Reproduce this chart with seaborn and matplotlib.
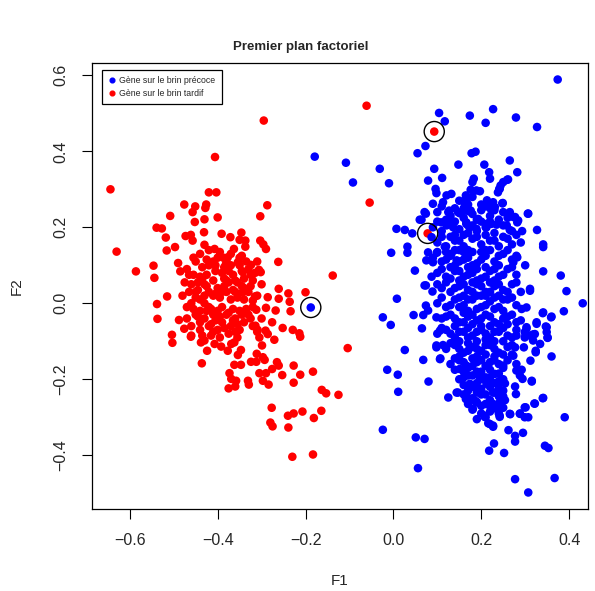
import pandas as pd
import matplotlib.pyplot as plt
import seaborn as sns
from matplotlib.lines import Line2D

# Coordinates (F1, F2)
red_pts = [
    (-0.406, 0.385), (-0.644, 0.300), (-0.630, 0.136), (-0.586, 0.084), (-0.546, 0.099), (-0.544, 0.067),
    (-0.515, 0.018), (-0.538, -0.002), (-0.420, 0.292), (-0.403, 0.292), (-0.476, 0.260), (-0.451, 0.255),
    (-0.457, 0.240), (-0.426, 0.260), (-0.428, 0.251), (-0.508, 0.230), (-0.452, 0.214), (-0.430, 0.221),
    (-0.400, 0.226), (-0.287, 0.258), (-0.303, 0.229), (-0.539, 0.199), (-0.527, 0.197), (-0.518, 0.173),
    (-0.516, 0.139), (-0.497, 0.148), (-0.473, 0.177), (-0.461, 0.180), (-0.457, 0.165), (-0.431, 0.187),
    (-0.430, 0.154), (-0.407, 0.143), (-0.391, 0.183), (-0.371, 0.174), (-0.350, 0.167), (-0.346, 0.186),
    (-0.337, 0.165), (-0.337, 0.149), (-0.363, 0.143), (-0.303, 0.165), (-0.296, 0.155), (-0.290, 0.143),
    (-0.262, 0.109), (-0.490, 0.106), (-0.485, 0.084), (-0.387, 0.120), (-0.377, 0.121), (-0.381, 0.104),
    (-0.354, 0.108), (-0.324, 0.101), (-0.306, 0.088), (-0.302, 0.082), (-0.343, 0.082), (-0.261, 0.038),
    (-0.239, 0.026), (-0.286, 0.016), (-0.261, 0.012), (-0.315, 0.018), (-0.200, 0.029), (-0.236, 0.004),
    (-0.320, 0.007), (-0.343, 0.029), (-0.537, -0.041), (-0.504, -0.083), (-0.503, -0.104), (-0.476, -0.067),
    (-0.461, -0.088), (-0.488, -0.044), (-0.436, -0.158), (-0.424, -0.125), (-0.438, -0.103), (-0.430, -0.098),
    (-0.407, -0.107), (-0.392, -0.114), (-0.377, -0.125), (-0.369, -0.107), (-0.362, -0.103), (-0.347, -0.123),
    (-0.354, -0.136), (-0.362, -0.162), (-0.347, -0.162), (-0.373, -0.184), (-0.369, -0.199), (-0.358, -0.204),
    (-0.375, -0.224), (-0.360, -0.219), (-0.331, -0.204), (-0.329, -0.214), (-0.305, -0.184), (-0.290, -0.184),
    (-0.297, -0.204), (-0.284, -0.214), (-0.324, -0.154), (-0.312, -0.154), (-0.311, -0.133), (-0.297, -0.142),
    (-0.293, -0.149), (-0.276, -0.173), (-0.265, -0.155), (-0.261, -0.164), (-0.253, -0.189), (-0.227, -0.164),
    (-0.212, -0.188), (-0.227, -0.209), (-0.183, -0.180), (-0.163, -0.228), (-0.153, -0.237), (-0.125, -0.241),
    (-0.104, -0.118), (-0.277, -0.275), (-0.280, -0.314), (-0.275, -0.324), (-0.240, -0.296), (-0.227, -0.290),
    (-0.207, -0.285), (-0.239, -0.327), (-0.181, -0.302), (-0.164, -0.283), (-0.230, -0.404), (-0.183, -0.398),
    (-0.234, -0.021), (-0.252, -0.065), (-0.229, -0.070), (-0.214, -0.079), (-0.212, -0.088), (-0.276, -0.050),
    (-0.271, -0.096), (-0.299, -0.111), (-0.305, -0.090), (-0.312, -0.017), (-0.290, -0.012), (-0.268, -0.019),
    (-0.291, -0.072), (-0.286, -0.081), (-0.314, -0.059), (-0.309, -0.070), (-0.061, 0.520), (-0.054, 0.265),
    (-0.138, 0.073), (-0.295, 0.481),
]

# dense part of the red cloud (estimated)
red_core = [
    (-0.47, 0.09), (-0.46, 0.05), (-0.45, 0.11), (-0.44, 0.07), (-0.43, 0.02), (-0.42, 0.10), (-0.41, 0.06),
    (-0.40, 0.12), (-0.39, 0.08), (-0.38, 0.03), (-0.37, 0.10), (-0.36, 0.06), (-0.35, 0.12), (-0.34, 0.04),
    (-0.33, 0.09), (-0.32, 0.06), (-0.31, 0.11), (-0.48, 0.02), (-0.47, -0.01), (-0.46, 0.00), (-0.45, 0.03),
    (-0.44, -0.02), (-0.43, 0.05), (-0.42, -0.01), (-0.41, 0.02), (-0.40, 0.04), (-0.39, -0.01), (-0.38, 0.06),
    (-0.37, 0.01), (-0.36, 0.03), (-0.35, -0.02), (-0.34, 0.01), (-0.33, 0.03), (-0.32, -0.01), (-0.31, 0.02),
    (-0.47, -0.04), (-0.46, -0.06), (-0.45, -0.03), (-0.44, -0.07), (-0.43, -0.04), (-0.42, -0.06), (-0.41, -0.03),
    (-0.40, -0.07), (-0.39, -0.05), (-0.38, -0.03), (-0.37, -0.06), (-0.36, -0.04), (-0.35, -0.07), (-0.34, -0.05),
    (-0.33, -0.03), (-0.32, -0.06), (-0.44, 0.13), (-0.42, 0.14), (-0.395, 0.135), (-0.37, 0.13), (-0.345, 0.125),
    (-0.455, 0.075), (-0.425, 0.045), (-0.405, 0.085), (-0.385, 0.045), (-0.365, 0.075), (-0.345, 0.085),
    (-0.325, 0.045), (-0.475, 0.055), (-0.435, 0.095), (-0.415, -0.015), (-0.395, 0.015), (-0.375, -0.025),
    (-0.355, 0.015), (-0.335, -0.015), (-0.455, -0.015), (-0.435, -0.085), (-0.415, -0.085), (-0.395, -0.09),
    (-0.375, -0.08), (-0.355, -0.09), (-0.465, 0.03), (-0.445, 0.035), (-0.405, -0.045), (-0.385, 0.095),
    (-0.365, -0.045), (-0.345, -0.03), (-0.425, 0.075), (-0.455, 0.12), (-0.41, 0.11), (-0.38, 0.115),
    (-0.35, 0.10), (-0.30, 0.05), (-0.30, -0.04), (-0.315, 0.08), (-0.36, -0.075), (-0.40, -0.02), (-0.43, 0.00),
    (-0.375, 0.055), (-0.34, 0.065), (-0.42, 0.03), (-0.44, 0.01), (-0.46, -0.085), (-0.44, -0.05), (-0.39, 0.03),
    (-0.31, -0.075), (-0.465, 0.075), (-0.445, 0.055), (-0.425, 0.115), (-0.405, 0.025), (-0.385, 0.065),
    (-0.365, 0.035), (-0.345, 0.045), (-0.335, 0.11), (-0.355, -0.055), (-0.385, -0.065), (-0.415, -0.055),
    (-0.445, -0.035), (-0.425, -0.02), (-0.395, -0.035), (-0.365, -0.015), (-0.325, -0.04), (-0.435, 0.065),
    (-0.405, 0.10), (-0.375, 0.085), (-0.355, 0.055), (-0.325, 0.075), (-0.45, 0.015), (-0.41, -0.075),
]

blue_pts = [
    (0.374, 0.589), (0.104, 0.501), (0.117, 0.479), (0.174, 0.494), (0.227, 0.511), (0.210, 0.475), (0.279, 0.489),
    (0.327, 0.464), (0.073, 0.414), (0.055, 0.395), (-0.031, 0.354), (-0.010, 0.316), (-0.179, 0.386),
    (-0.108, 0.370), (-0.092, 0.318), (0.178, 0.395), (0.187, 0.399), (0.148, 0.365), (0.093, 0.354),
    (0.111, 0.330), (0.079, 0.323), (0.207, 0.365), (0.265, 0.376), (0.282, 0.345), (0.218, 0.345), (0.220, 0.328),
    (0.183, 0.328), (0.180, 0.319), (0.261, 0.326), (0.244, 0.310), (0.241, 0.301), (0.096, 0.301), (0.098, 0.290),
    (0.132, 0.288), (0.121, 0.284), (0.113, 0.266), (0.166, 0.279), (0.163, 0.262), (0.189, 0.297), (0.197, 0.295),
    (0.090, 0.262), (0.125, 0.240), (0.151, 0.237), (0.172, 0.242), (0.213, 0.271), (0.223, 0.262), (0.231, 0.253),
    (0.248, 0.263), (0.307, 0.236), (0.265, 0.240), (0.273, 0.227), (0.282, 0.213), (0.074, 0.236), (0.064, 0.220),
    (0.007, 0.196), (0.026, 0.193), (0.043, 0.184), (0.293, 0.190), (0.327, 0.193), (0.193, 0.222), (0.166, 0.209),
    (0.212, 0.209), (0.235, 0.207), (-0.005, 0.133), (0.032, 0.149), (0.032, 0.133), (0.049, 0.086), (0.008, 0.012),
    (-0.024, -0.037), (-0.006, -0.057), (0.026, -0.123), (0.068, -0.149), (0.046, -0.031), (0.068, -0.031),
    (0.065, -0.066), (0.074, 0.047), (0.089, 0.031), (0.079, 0.134), (0.099, 0.133), (0.087, 0.070), (0.098, -0.111),
    (0.113, -0.110), (0.107, -0.145), (0.341, 0.155), (0.341, 0.148), (0.341, 0.084), (0.381, 0.073), (0.394, 0.032),
    (0.431, 0.000), (0.388, -0.021), (0.359, -0.037), (0.340, -0.026), (0.326, -0.050), (0.347, -0.061),
    (0.349, -0.076), (0.351, -0.091), (0.334, -0.107), (0.318, -0.098), (0.311, -0.085), (0.299, -0.076),
    (0.303, -0.063), (0.318, -0.082), (0.360, -0.140), (0.312, -0.151), (0.311, 0.038), (-0.014, -0.175),
    (0.010, -0.188), (0.011, -0.233), (0.080, -0.206), (0.125, -0.248), (-0.024, -0.333), (0.051, -0.353),
    (0.071, -0.357), (0.056, -0.434), (0.390, -0.300), (0.340, -0.250), (0.321, -0.264), (0.345, -0.375),
    (0.353, -0.381), (0.277, -0.463), (0.307, -0.498), (0.367, -0.460), (0.218, -0.388), (0.229, -0.369),
    (0.252, -0.394), (0.262, -0.334), (0.277, -0.349), (0.277, -0.364), (0.295, -0.341), (0.266, -0.292),
    (0.288, -0.290), (0.299, -0.300), (0.307, -0.300), (0.301, -0.274), (0.208, -0.299), (0.216, -0.316),
    (0.227, -0.325), (0.242, -0.299), (0.181, -0.278), (0.189, -0.261), (0.212, -0.265), (0.227, -0.265),
    (0.235, -0.278), (0.242, -0.261), (0.254, -0.255), (0.315, -0.206), (0.294, -0.199), (0.280, -0.177),
    (0.288, -0.190), (0.324, -0.129), (0.144, -0.235), (0.165, -0.252), (0.166, -0.239), (0.187, -0.258),
    (0.254, -0.211), (0.277, -0.219), (0.279, -0.239), (0.231, -0.186), (0.250, -0.164), (0.280, -0.160),
    (0.292, -0.175), (0.151, -0.173), (0.166, -0.164), (0.174, -0.212), (0.185, -0.221), (0.197, -0.230),
    (0.212, -0.212), (0.227, -0.235), (0.250, -0.230), (0.189, -0.186), (0.197, -0.195), (0.223, -0.212),
    (0.242, -0.208), (0.259, 0.325), (0.250, 0.319), (0.242, 0.301), (0.238, 0.292), (0.176, 0.299), (0.165, 0.284),
    (0.166, 0.271), (0.170, 0.244), (0.227, 0.266), (0.221, 0.249), (0.249, 0.264), (0.277, 0.227), (0.284, 0.218),
    (0.306, 0.236), (0.071, 0.240), (0.060, 0.220), (0.127, 0.244), (0.147, 0.240), (0.159, 0.244), (0.176, 0.244),
    (0.109, 0.213), (0.121, 0.205), (0.136, 0.200), (0.166, 0.213), (0.174, 0.200), (0.189, 0.196), (0.212, 0.200),
    (0.223, 0.209), (0.258, 0.205), (0.265, 0.193), (0.087, 0.174), (0.075, 0.113), (0.090, 0.108), (0.071, 0.047),
    (0.117, 0.149), (0.132, 0.130), (0.144, 0.113), (0.282, 0.121), (0.273, 0.108), (0.074, -0.006), (0.079, -0.019),
    (0.098, -0.037), (0.106, -0.072), (0.098, -0.116), (0.106, -0.147), (0.147, -0.235), (0.166, -0.248),
    (0.185, -0.256), (0.208, -0.296), (0.220, -0.318), (0.227, -0.322), (0.242, -0.296), (0.231, -0.270),
    (0.216, -0.265), (0.265, -0.291), (0.288, -0.291), (0.299, -0.274), (0.322, -0.264), (0.341, -0.249),
    (0.315, -0.204), (0.341, -0.024), (0.360, -0.035), (0.349, -0.063), (0.351, -0.090), (0.326, -0.054),
    (0.322, -0.081), (0.324, -0.125), (0.303, -0.067), (0.299, -0.090), (0.297, -0.116), (0.280, -0.085),
    (0.277, -0.116), (0.273, -0.138), (0.292, -0.015), (0.303, -0.011), (0.311, 0.033),
]

# dense part of the blue cloud (estimated)
blue_core = [
    (0.15, 0.27), (0.18, 0.28), (0.20, 0.26), (0.14, 0.25),
    (0.10, 0.24), (0.13, 0.23), (0.16, 0.25), (0.18, 0.235), (0.20, 0.245), (0.22, 0.23), (0.25, 0.24), (0.12, 0.22),
    (0.19, 0.22), (0.09, 0.20), (0.11, 0.19), (0.13, 0.21), (0.15, 0.195), (0.17, 0.205), (0.19, 0.19), (0.21, 0.20),
    (0.23, 0.185), (0.25, 0.205), (0.27, 0.19), (0.14, 0.18), (0.20, 0.215), (0.16, 0.18),
    (0.10, 0.16), (0.12, 0.15), (0.14, 0.165), (0.16, 0.15), (0.18, 0.17), (0.20, 0.155), (0.22, 0.165), (0.24, 0.15),
    (0.26, 0.17), (0.29, 0.16), (0.13, 0.175), (0.17, 0.14), (0.21, 0.14), (0.25, 0.175), (0.15, 0.14),
    (0.09, 0.12), (0.11, 0.11), (0.13, 0.125), (0.15, 0.11), (0.17, 0.12), (0.19, 0.105), (0.21, 0.125), (0.23, 0.11),
    (0.25, 0.13), (0.27, 0.115), (0.12, 0.135), (0.16, 0.135), (0.20, 0.135), (0.24, 0.10), (0.18, 0.10), (0.14, 0.10),
    (0.10, 0.08), (0.12, 0.07), (0.14, 0.085), (0.16, 0.07), (0.18, 0.08), (0.20, 0.065), (0.22, 0.085), (0.24, 0.07),
    (0.26, 0.09), (0.28, 0.075), (0.13, 0.095), (0.17, 0.095), (0.21, 0.095), (0.15, 0.06), (0.19, 0.06), (0.23, 0.06),
    (0.30, 0.10), (0.11, 0.04), (0.13, 0.03), (0.15, 0.045), (0.17, 0.035), (0.19, 0.05), (0.21, 0.03), (0.23, 0.045),
    (0.25, 0.035), (0.27, 0.05), (0.12, 0.055), (0.16, 0.02), (0.20, 0.02), (0.24, 0.02), (0.18, 0.055), (0.22, 0.055),
    (0.29, 0.03), (0.10, 0.00), (0.12, -0.01), (0.14, 0.01), (0.16, -0.005), (0.18, 0.01), (0.20, -0.01), (0.22, 0.005),
    (0.24, -0.01), (0.26, 0.01), (0.28, -0.005), (0.15, 0.015), (0.19, -0.015), (0.23, 0.015), (0.17, -0.02),
    (0.21, 0.02), (0.25, -0.02), (0.11, -0.04), (0.13, -0.03), (0.15, -0.05), (0.17, -0.035), (0.19, -0.045),
    (0.21, -0.03), (0.23, -0.05), (0.25, -0.04), (0.27, -0.03), (0.14, -0.06), (0.18, -0.055), (0.22, -0.06),
    (0.26, -0.055), (0.16, -0.025), (0.20, -0.06), (0.29, -0.045), (0.10, -0.08), (0.12, -0.07), (0.14, -0.09),
    (0.16, -0.075), (0.18, -0.085), (0.20, -0.07), (0.22, -0.09), (0.24, -0.075), (0.26, -0.085), (0.28, -0.07),
    (0.15, -0.10), (0.19, -0.10), (0.23, -0.10), (0.17, -0.065), (0.21, -0.08), (0.25, -0.10), (0.12, -0.12),
    (0.14, -0.11), (0.16, -0.13), (0.18, -0.115), (0.20, -0.125), (0.22, -0.11), (0.24, -0.13), (0.26, -0.115),
    (0.15, -0.14), (0.19, -0.14), (0.23, -0.14), (0.21, -0.135), (0.17, -0.105), (0.27, -0.135), (0.13, -0.16),
    (0.15, -0.15), (0.17, -0.17), (0.19, -0.155), (0.21, -0.165), (0.23, -0.15), (0.25, -0.17), (0.16, -0.18),
    (0.20, -0.18), (0.24, -0.185), (0.18, -0.145), (0.22, -0.175), (0.14, -0.175), (0.15, -0.20), (0.17, -0.19),
    (0.19, -0.21), (0.21, -0.195), (0.23, -0.21), (0.25, -0.20), (0.18, -0.22), (0.22, -0.22), (0.16, -0.215),
    (0.20, -0.225), (0.24, -0.225), (0.16, -0.24), (0.18, -0.25), (0.20, -0.24), (0.22, -0.255), (0.24, -0.245),
    (0.19, -0.26), (0.21, -0.265), (0.23, -0.27), (0.18, -0.28), (0.20, -0.29), (0.22, -0.285), (0.24, -0.29),
    (0.21, -0.30), (0.19, -0.305),
    (0.11, 0.255), (0.17, 0.26), (0.21, 0.255), (0.23, 0.245), (0.10, 0.215), (0.14, 0.215), (0.16, 0.225),
    (0.18, 0.205), (0.22, 0.215), (0.24, 0.22), (0.26, 0.225), (0.11, 0.175), (0.15, 0.165), (0.17, 0.185),
    (0.19, 0.175), (0.21, 0.18), (0.23, 0.165), (0.27, 0.155), (0.28, 0.18), (0.10, 0.135), (0.12, 0.115),
    (0.14, 0.14), (0.16, 0.115), (0.18, 0.135), (0.20, 0.115), (0.22, 0.14), (0.24, 0.125), (0.26, 0.14),
    (0.28, 0.125), (0.11, 0.09), (0.13, 0.065), (0.15, 0.085), (0.17, 0.075), (0.19, 0.09), (0.21, 0.07),
    (0.23, 0.09), (0.25, 0.075), (0.27, 0.095), (0.10, 0.05), (0.14, 0.04), (0.16, 0.05), (0.18, 0.03),
    (0.20, 0.045), (0.22, 0.03), (0.24, 0.05), (0.26, 0.03), (0.28, 0.055), (0.11, 0.015), (0.13, -0.005),
    (0.15, -0.01), (0.17, 0.01), (0.19, 0.02), (0.21, -0.005), (0.23, -0.015), (0.25, 0.01), (0.27, 0.015),
    (0.12, -0.035), (0.14, -0.04), (0.16, -0.05), (0.18, -0.03), (0.20, -0.04), (0.22, -0.035), (0.24, -0.055),
    (0.26, -0.035), (0.28, -0.05), (0.11, -0.065), (0.13, -0.08), (0.15, -0.075), (0.17, -0.09), (0.19, -0.075),
    (0.21, -0.095), (0.23, -0.075), (0.25, -0.065), (0.27, -0.09), (0.13, -0.105), (0.15, -0.12), (0.17, -0.125),
    (0.19, -0.12), (0.21, -0.11), (0.23, -0.12), (0.25, -0.135), (0.27, -0.11), (0.14, -0.145), (0.16, -0.155),
    (0.18, -0.165), (0.20, -0.15), (0.22, -0.155), (0.24, -0.16), (0.26, -0.15), (0.16, -0.195), (0.18, -0.19),
    (0.20, -0.20), (0.22, -0.195), (0.24, -0.205), (0.19, -0.18), (0.17, -0.23), (0.19, -0.235), (0.21, -0.24),
    (0.23, -0.235), (0.25, -0.245), (0.17, -0.265), (0.20, -0.27), (0.22, -0.27), (0.25, -0.275),
]

# points highlighted with a black ring
red_marked = [(0.093, 0.452), (0.078, 0.184)]
blue_marked = [(-0.188, -0.011)]

lab_early = 'Gène sur le brin précoce'
lab_late = 'Gène sur le brin tardif'

red = red_pts + red_core + red_marked
blue = blue_pts + blue_core + blue_marked
df = pd.DataFrame(red + blue, columns=['F1', 'F2'])
df['brin'] = [lab_late] * len(red) + [lab_early] * len(blue)
marked = pd.DataFrame(red_marked + blue_marked, columns=['F1', 'F2'])

sns.set_style('ticks')
plt.rcParams['font.family'] = ['Liberation Sans', 'DejaVu Sans']

fig = plt.figure(figsize=(5.95, 5.91), dpi=100)
ax = fig.add_axes([92 / 595, 1 - 509 / 591, (588 - 92) / 595, (509 - 63) / 591])

sns.scatterplot(data=df, x='F1', y='F2', hue='brin', hue_order=[lab_early, lab_late],
                palette=['blue', 'red'], s=38, linewidth=0, ax=ax, legend=False)
ax.scatter(marked['F1'], marked['F2'], s=210, facecolors='none', edgecolors='black', linewidths=1)

ax.set_xlim(-0.686, 0.443)
ax.set_ylim(-0.5415, 0.6325)
ax.set_xticks([-0.6, -0.4, -0.2, 0.0, 0.2, 0.4])
ax.set_yticks([-0.4, -0.2, 0.0, 0.2, 0.4, 0.6])
ax.tick_params(length=7, width=0.8, pad=10, labelsize=11.5, color='black')
plt.setp(ax.get_yticklabels(), rotation=90, va='center')
for sp in ax.spines.values():
    sp.set_linewidth(0.9)
    sp.set_color('black')

ax.set_xlabel('F1', fontsize=11, labelpad=19)
ax.set_ylabel('F2', fontsize=11, labelpad=21)
fig.text(0.505, 1 - 47 / 591, 'Premier plan factoriel', fontsize=9.5, fontweight='bold',
         ha='center', va='center')

handles = [Line2D([], [], marker='o', linestyle='', color='blue', markersize=3.4),
           Line2D([], [], marker='o', linestyle='', color='red', markersize=3.4)]
leg = ax.legend(handles, [lab_early, lab_late], loc='upper left', bbox_to_anchor=(0.02, 0.985),
                fontsize=6.3, frameon=True, fancybox=False, edgecolor='black', framealpha=1,
                handlelength=0.8, handletextpad=0.5, borderpad=0.7, labelspacing=0.45, borderaxespad=0)
leg.get_frame().set_linewidth(0.9)

plt.savefig('out.png', dpi=100)
